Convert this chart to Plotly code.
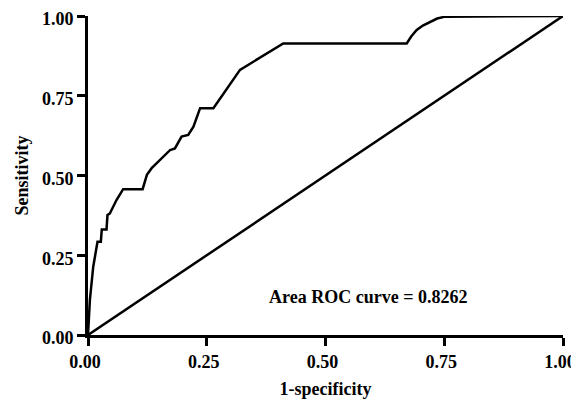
import plotly.graph_objects as go

# ROC curve points
fpr = [0.0, 0.004, 0.011, 0.020, 0.027, 0.029, 0.039, 0.041, 0.046, 0.060,
       0.074, 0.115, 0.124, 0.134, 0.173, 0.183, 0.197, 0.211, 0.222, 0.236,
       0.264, 0.320, 0.411, 0.671, 0.680, 0.692, 0.705, 0.720, 0.735, 0.752, 1.0]
tpr = [0.0, 0.110, 0.214, 0.292, 0.292, 0.331, 0.331, 0.376, 0.381, 0.423,
       0.457, 0.457, 0.502, 0.523, 0.580, 0.585, 0.622, 0.627, 0.653, 0.711,
       0.711, 0.831, 0.914, 0.914, 0.935, 0.956, 0.970, 0.982, 0.992, 0.998, 1.0]
ref_x = [0.0, 1.0]
ref_y = [0.0, 1.0]
tick_vals = [0.0, 0.25, 0.5, 0.75, 1.0]
tick_text = ["0.00", "0.25", "0.50", "0.75", "1.00"]
auc_label = "Area ROC curve = 0.8262"

font = "Liberation Serif"

fig = go.Figure()
fig.add_trace(go.Scatter(x=ref_x, y=ref_y, mode="lines",
                         line=dict(color="black", width=2.5), showlegend=False))
fig.add_trace(go.Scatter(x=fpr, y=tpr, mode="lines",
                         line=dict(color="black", width=2.5), showlegend=False))

axis_common = dict(
    range=[0, 1], tickvals=tick_vals, ticktext=tick_text, automargin=False,
    ticklabeloverflow="allow",
    showgrid=False, zeroline=False, showline=True, linecolor="black", linewidth=3,
    ticks="outside", ticklen=8, tickwidth=3, tickcolor="black",
    tickfont=dict(family=font, size=18, color="black", weight="bold"),
)

# page body has an 8px margin, so the figure is sized/margined to compensate
fig.update_layout(
    width=577, height=394,
    margin=dict(l=80, r=22, t=8, b=67),
    paper_bgcolor="white", plot_bgcolor="white",
    xaxis=dict(**axis_common, ticklabelshift=-3,
               title=dict(text="1-specificity", font=dict(family=font, size=18, color="black", weight="bold"), standoff=12)),
    yaxis=dict(**axis_common, ticklabelshift=3,
               title=dict(text="Sensitivity", font=dict(family=font, size=18, color="black", weight="bold"), standoff=9)),
    annotations=[dict(x=0.59, y=0.12, xref="x", yref="y", text=auc_label,
                      showarrow=False, font=dict(family=font, size=18, color="black", weight="bold"))],
)

fig.write_html("out.html")
